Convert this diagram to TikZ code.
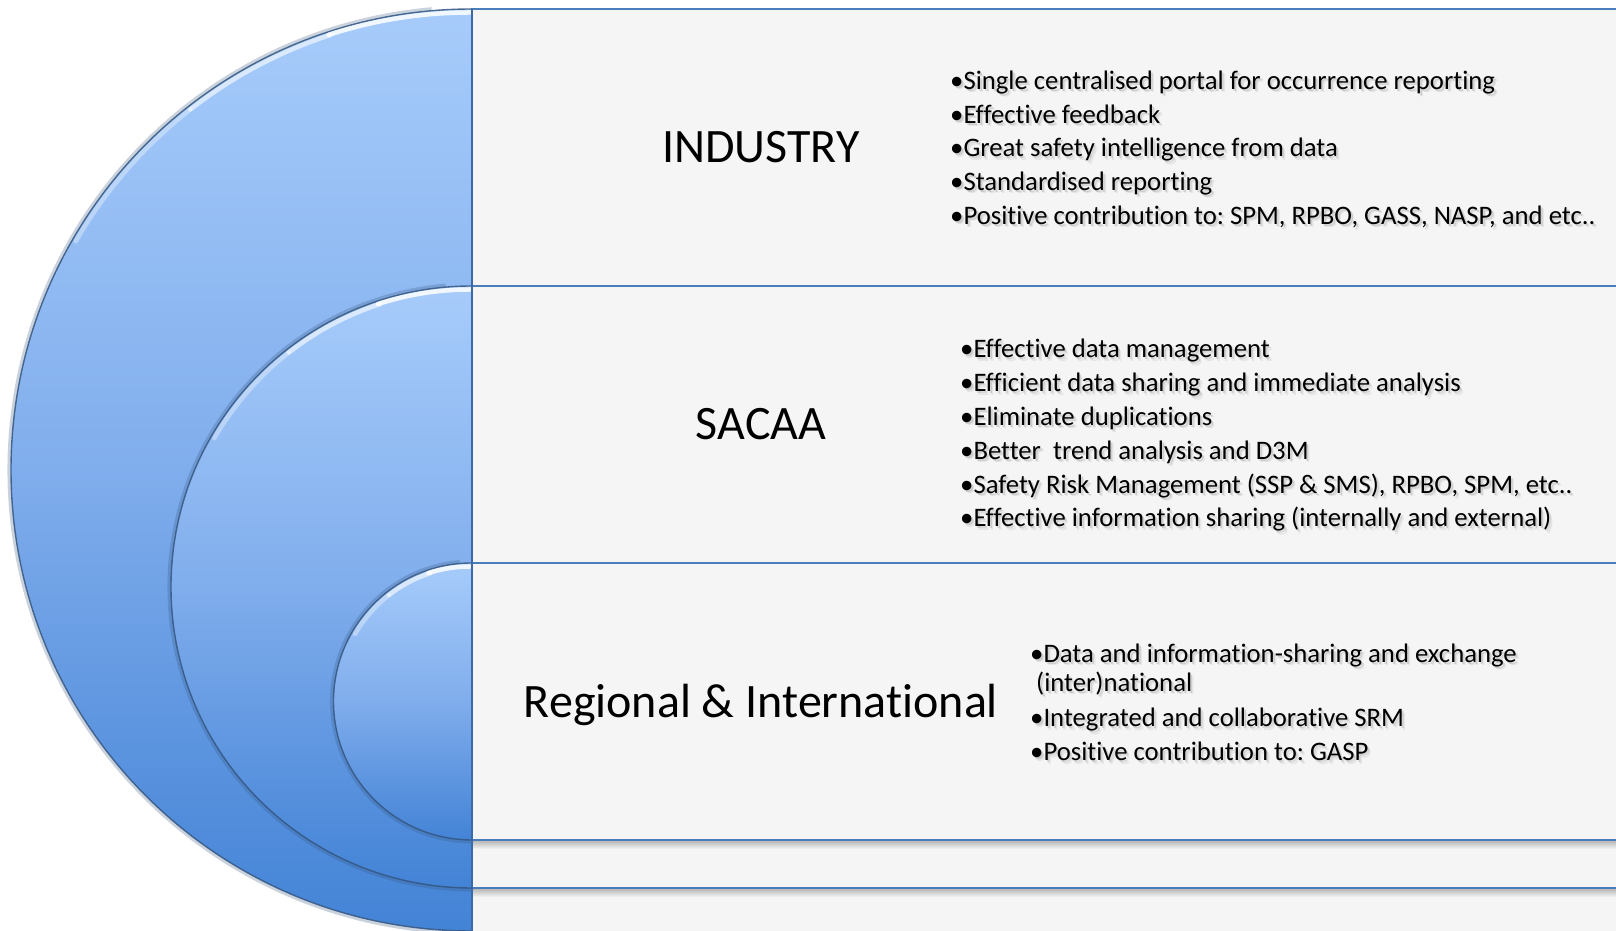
\documentclass[tikz,border=0pt]{standalone}
\usepackage{fontspec}
\setmainfont{Carlito}[Ligatures={NoCommon,NoRare,NoContextual}, Contextuals=NoAlternate]
\frenchspacing

\definecolor{bandfill}{HTML}{F5F5F5}
\definecolor{bandline}{HTML}{4A7EBB}
\definecolor{bandedge}{HTML}{3D6AA6}
\definecolor{discTop}{HTML}{A7CCFB}
\definecolor{discMid}{HTML}{80ADEC}
\definecolor{discBot}{HTML}{4383D6}
\definecolor{discEdge}{HTML}{34557F}

\tikzset{
  band/.style={fill=bandfill, draw=bandline, line width=1.6pt},
  disc/.style={top color=discTop, bottom color=discBot, middle color=discMid},
  rim/.style={draw=discEdge, line width=1.4pt, opacity=0.85},
  glow/.style={draw=white, line width=4.5pt, line cap=round},
  title/.style={anchor=base, inner sep=0pt, font=\fontsize{48}{56}\selectfont, text=black},
  btext/.style={anchor=base west, inner sep=0pt, font=\fontsize{26.7}{30}\selectfont, text=black},
}

% one bullet line with a soft grey drop shadow: name, x, baseline y, text
\newcommand\bulletline[4]{%
  \node[btext, text=gray, opacity=0.13] (#1t) at (#2+3.2,#3-3.2) {#4};
  \node[btext, text=gray, opacity=0.25] (#1s) at (#2+1.8,#3-1.8) {#4};
  \node[btext] (#1) at (#2,#3) {#4};}

% one half disc with its rim, shadow and highlight: centre y, radius
\newcommand\halfdisc[2]{%
  \draw[discEdge, line width=3.5pt, opacity=0.26]
    (472,#1-#2-1.8) arc[start angle=270, end angle=95, radius=#2+1.8];
  \shade[disc] (472,#1+#2) arc[start angle=90, end angle=270, radius=#2] -- cycle;
  \draw[rim] (472,#1+#2) arc[start angle=90, end angle=270, radius=#2];
  \draw[glow, opacity=0.85] (470,#1+#2-3.5) arc[start angle=90, end angle=108, radius=#2-3.5];
  \draw[glow, opacity=0.6] ({472+(#2-3.5)*cos(108)},{#1+(#2-3.5)*sin(108)})
    arc[start angle=108, end angle=128, radius=#2-3.5];
  \draw[glow, opacity=0.35] ({472+(#2-3.5)*cos(128)},{#1+(#2-3.5)*sin(128)})
    arc[start angle=128, end angle=150, radius=#2-3.5];}

\begin{document}
\begin{tikzpicture}[x=1pt, y=1pt]
\useasboundingbox (0,0) rectangle (1616,931);
\fill[white] (0,0) rectangle (1616,931);
\begin{scope}
\clip (0,0) rectangle (1616,931);

% three stacked bands
\draw[band] (472,-30) rectangle (1650,922);
\shade[top color=black!30, bottom color=bandfill] (472,34) rectangle (1650,43);
\draw[band] (472,43) rectangle (1650,645);
\shade[top color=black!30, bottom color=bandfill] (472,82) rectangle (1650,91);
\draw[band] (472,91) rectangle (1650,368);

% nested half discs
\halfdisc{461}{461}
\halfdisc{344}{301}
\halfdisc{229.5}{138.5}

% common left edge of the bands
\draw[bandedge, line width=2pt] (472,-5) -- (472,922);
\end{scope}

% band titles
\node[title] (ind) at (761,768) {INDUSTRY};
\node[title] (sacaa) at (761,491) {SACAA};
\node[title] (reg) at (761,213) {Regional \& International};

% industry benefits
\bulletline{i1}{950}{841.5}{•Single centralised portal for occurrence reporting}
\bulletline{i2}{950}{807.5}{•Effective feedback}
\bulletline{i3}{950}{774}{•Great safety intelligence from data}
\bulletline{i4}{950}{740.5}{•Standardised reporting}
\bulletline{i5}{950}{706.5}{•Positive contribution to: SPM, RPBO, GASS, NASP, and etc..}

% SACAA benefits
\bulletline{s1}{960}{573}{•Effective data management}
\bulletline{s2}{960}{539}{•Efficient data sharing and immediate analysis}
\bulletline{s3}{960}{505.5}{•Eliminate duplications}
\bulletline{s4}{960}{471.5}{•Better\ \ trend analysis and D3M}
\bulletline{s5}{960}{437.5}{•Safety Risk Management (SSP \& SMS), RPBO, SPM, etc..}
\bulletline{s6}{960}{404}{•Effective information sharing (internally and external)}

% regional and international benefits
\bulletline{r1}{1030}{268.5}{•Data and information-sharing and exchange}
\bulletline{r2}{1036}{239.5}{(inter)national}
\bulletline{r3}{1030}{204}{•Integrated and collaborative SRM}
\bulletline{r4}{1030}{170}{•Positive contribution to: GASP}
\end{tikzpicture}
\end{document}
